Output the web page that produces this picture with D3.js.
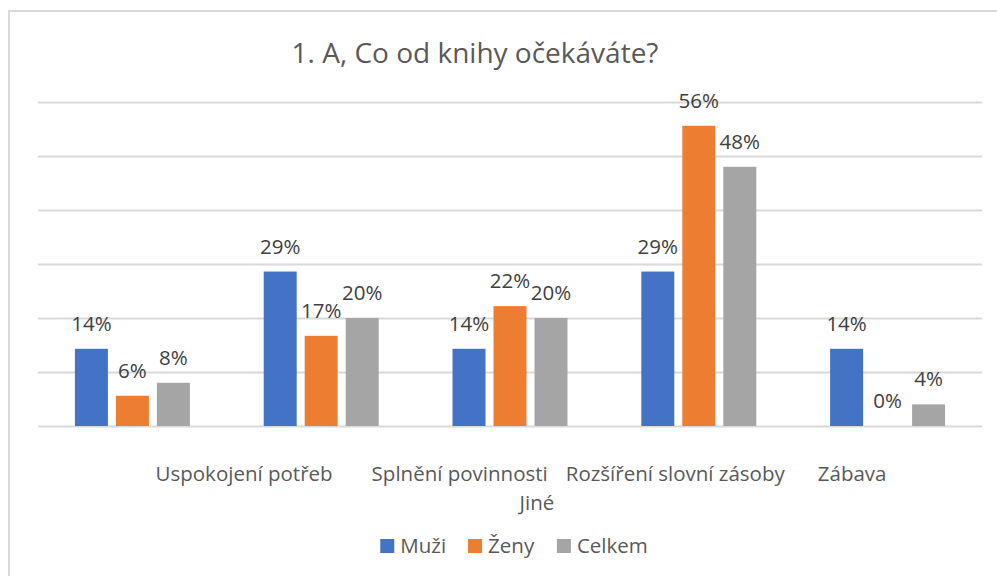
<!DOCTYPE html>
<html>
<head>
<meta charset="utf-8">
<script src="https://cdn.jsdelivr.net/npm/d3@7"></script>
<style>
  html, body { margin: 0; padding: 0; background: #fff; }
  #chart { width: 997px; height: 576px; }
  text { font-family: 'Open Sans', sans-serif; }
</style>
</head>
<body>
<div id="chart"></div>
<script>
const title = '1. A, Co od knihy očekáváte?';
const categories = ['Uspokojení potřeb', 'Splnění povinnosti', 'Rozšíření slovní zásoby', 'Zábava', 'Jiné'];
const seriesNames = ['Muži', 'Ženy', 'Celkem'];
const muzi   = [0.143, 0.286, 0.143, 0.286, 0.143];
const zeny   = [0.056, 0.167, 0.222, 0.556, 0.000];
const celkem = [0.08, 0.20, 0.20, 0.48, 0.04];
const yTicks = [0, 0.1, 0.2, 0.3, 0.4, 0.5, 0.6];

const colors = ['#4472C4', '#ED7D31', '#A5A5A5'];
const seriesValues = [muzi, zeny, celkem];

const width = 997, height = 576;
const margin = { top: 102, right: 15, bottom: 150, left: 38 };
const w = width - margin.left - margin.right;
const h = height - margin.top - margin.bottom;

const svg = d3.select('#chart').append('svg')
  .attr('width', width).attr('height', height);

// chart frame (only top/left edge visible in the crop)
svg.append('path')
  .attr('d', `M9,${height} V11 H${width}`)
  .attr('fill', 'none')
  .attr('stroke', '#D9D9D9')
  .attr('stroke-width', 2);

svg.append('text')
  .attr('x', 475).attr('y', 63)
  .attr('text-anchor', 'middle')
  .attr('font-size', 28)
  .attr('fill', '#595959')
  .text(title);

const g = svg.append('g').attr('transform', `translate(${margin.left},${margin.top})`);

const x0 = d3.scaleBand().domain(d3.range(categories.length)).range([0, w]).paddingInner(0).paddingOuter(0);
const groupW = 115;
const x1 = d3.scaleBand().domain(d3.range(seriesNames.length))
  .range([(x0.bandwidth() - groupW) / 2, (x0.bandwidth() + groupW) / 2])
  .paddingInner(8 / 41).paddingOuter(0);
const y = d3.scaleLinear().domain([0, 0.6]).range([h, 0]);

// gridlines
g.append('g').selectAll('line')
  .data(yTicks)
  .enter().append('line')
  .attr('x1', 0).attr('x2', w)
  .attr('y1', d => Math.round(y(d)) + 0.5)
  .attr('y2', d => Math.round(y(d)) + 0.5)
  .attr('stroke', '#D9D9D9')
  .attr('stroke-width', 2);

const rows = [];
categories.forEach((c, i) => {
  seriesValues.forEach((vals, s) => rows.push({ ci: i, s, v: vals[i] }));
});

const bars = g.append('g').selectAll('g')
  .data(rows)
  .enter().append('g')
  .attr('transform', d => `translate(${x0(d.ci)},0)`);

bars.append('rect')
  .attr('x', d => x1(d.s))
  .attr('y', d => y(d.v))
  .attr('width', x1.bandwidth())
  .attr('height', d => h - y(d.v))
  .attr('fill', d => colors[d.s]);

bars.append('text')
  .attr('x', d => x1(d.s) + x1.bandwidth() / 2)
  .attr('y', d => y(d.v) - 18)
  .attr('text-anchor', 'middle')
  .attr('font-size', 20.5)
  .attr('fill', '#404040')
  .text(d => Math.round(d.v * 100) + '%');

// category labels: Excel wrapped them as one long label under the axis
const gaps = [39, 18, 33];
const line1 = categories.slice(0, 4);
const lab = svg.append('g').attr('font-size', 20.5).attr('fill', '#595959');
const pieces = lab.selectAll('text.l1').data(line1).enter().append('text')
  .attr('class', 'l1').attr('y', 481).text(d => d);
const widths = pieces.nodes().map(n => n.getComputedTextLength());
const total = d3.sum(widths) + d3.sum(gaps);
let cx = margin.left + w / 2 + 11 - total / 2;
pieces.each(function(d, i) {
  d3.select(this).attr('x', cx);
  cx += widths[i] + (gaps[i] || 0);
});
lab.append('text')
  .attr('x', margin.left + w / 2 + 27)
  .attr('y', 510)
  .attr('text-anchor', 'middle')
  .text(categories[4]);

// legend
const legend = svg.append('g').attr('font-size', 20.5).attr('fill', '#595959');
const items = legend.selectAll('g').data(seriesNames).enter().append('g');
items.append('rect').attr('width', 14).attr('height', 14).attr('y', 539)
  .attr('fill', (d, i) => colors[i]);
items.append('text').attr('x', 20).attr('y', 553).text(d => d);
let lx = 0;
const itemW = [];
items.each(function() { itemW.push(this.getBBox().width); });
const legTotal = d3.sum(itemW) + 22 * (itemW.length - 1);
lx = 514 - legTotal / 2;
items.each(function(d, i) {
  d3.select(this).attr('transform', `translate(${lx},0)`);
  lx += itemW[i] + 22;
});
</script>
</body>
</html>
